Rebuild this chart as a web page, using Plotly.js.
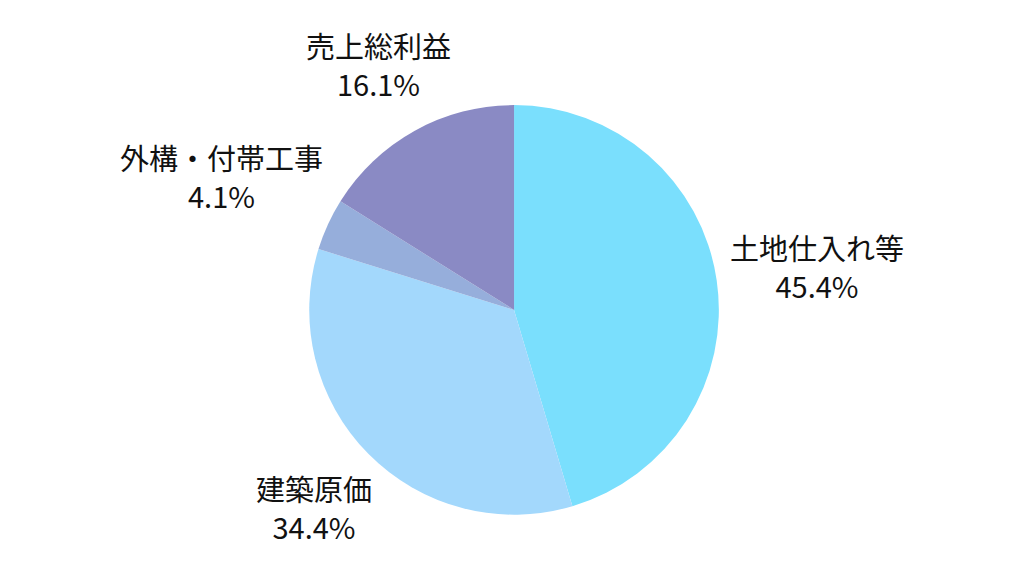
<!DOCTYPE html>
<html>
<head>
<meta charset="utf-8">
<script src="https://cdn.plot.ly/plotly-3.0.1.min.js"></script>
<style>
  html, body { margin: 0; padding: 0; background: #ffffff; }
  #chart { width: 1024px; height: 576px; }
</style>
</head>
<body>
<div id="chart"></div>
<script>
// cost breakdown (%)
const labels = ['土地仕入れ等', '建築原価', '外構・付帯工事', '売上総利益'];
const values = [45.4, 34.4, 4.1, 16.1];
const colors = ['#7adffd', '#a3d8fc', '#96aedb', '#8a8ac4'];

const W = 1024, H = 576;
const FONT = 'Noto Sans CJK JP';
const FS = 29;
const domain = { x: [0.302, 0.702], y: [0.106, 0.818] };

// label texts sit outside the slice, centred on the slice's middle direction
function measure(txt) {
    const ctx = document.createElement('canvas').getContext('2d');
    ctx.font = FS + 'px "' + FONT + '"';
    return ctx.measureText(txt).width;
}

function outsideLabels() {
    const total = values.reduce((a, b) => a + b, 0);
    const cx = (domain.x[0] + domain.x[1]) / 2 * W;
    const cy = (1 - (domain.y[0] + domain.y[1]) / 2) * H;
    const r = Math.min((domain.x[1] - domain.x[0]) * W, (domain.y[1] - domain.y[0]) * H) / 2;
    const gap = 10;
    const boxH = 70;
    let cum = 0;
    return labels.map((lab, i) => {
        const pct = values[i].toFixed(1) + '%';
        const mid = (cum + values[i] / 2) / total;
        cum += values[i];
        const th = 2 * Math.PI * mid;
        const ux = Math.sin(th), uy = -Math.cos(th);
        const boxW = Math.max(measure(lab), measure(pct));
        const d = r + gap + Math.abs(ux) * boxW / 2 + Math.abs(uy) * boxH / 2;
        return {
            xref: 'paper', yref: 'paper',
            x: (cx + ux * d) / W,
            y: 1 - (cy + uy * d) / H,
            xanchor: 'center', yanchor: 'middle',
            text: lab + '<br>' + pct,
            showarrow: false,
            align: 'center',
            font: { family: FONT, size: FS, color: '#111111' }
        };
    });
}

const trace = {
    type: 'pie',
    labels: labels,
    values: values,
    sort: false,
    direction: 'clockwise',
    rotation: 0,
    marker: {
        colors: colors,
        line: { width: 0 }
    },
    textinfo: 'none',
    hoverinfo: 'none',
    domain: domain
};

const layout = {
    width: W,
    height: H,
    showlegend: false,
    paper_bgcolor: '#ffffff',
    margin: { t: 0, r: 0, l: 0, b: 0 },
    font: { family: FONT },
    annotations: outsideLabels()
};

Plotly.newPlot('chart', [trace], layout, { displayModeBar: false, staticPlot: true });
</script>
</body>
</html>
